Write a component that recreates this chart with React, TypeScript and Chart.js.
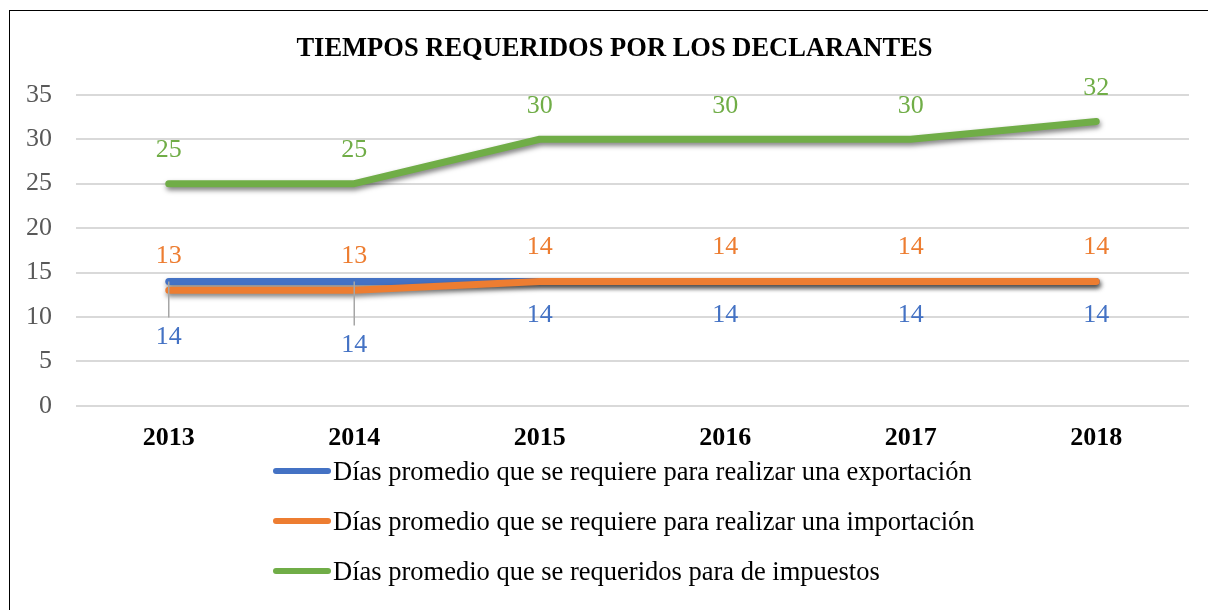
import React, { useEffect, useRef } from "react";
import { Chart, registerables } from "chart.js";

Chart.register(...registerables);

const TITLE = "TIEMPOS REQUERIDOS POR LOS DECLARANTES";
const years = ["2013", "2014", "2015", "2016", "2017", "2018"];
const seriesNames = [
  "Días promedio que se requiere para realizar una exportación",
  "Días promedio que se requiere para realizar una importación",
  "Días promedio que se requeridos para de impuestos",
];
const exportDays = [14, 14, 14, 14, 14, 14];
const importDays = [13, 13, 14, 14, 14, 14];
const taxDays = [25, 25, 30, 30, 30, 32];
const yTicks = [0, 5, 10, 15, 20, 25, 30, 35];

const COLORS = ["#4472C4", "#ED7D31", "#70AD47"];
const SERIF = '"Liberation Serif", "Times New Roman", Times, serif';

// label placement (pixels relative to point), per dataset
const labelOffsets = [
  [56, 64, 34, 34, 34, 34],
  [-34, -34, -34, -34, -34, -34],
  [-33, -33, -33, -33, -33, -33],
];
const leaderIdx = [0, 1];

const titleShiftPlugin = {
  id: "titleShift",
  afterLayout(chart: any) {
    if (chart.titleBlock) {
      chart.titleBlock.left += 38;
    }
  },
};

const shadowPlugin = {
  id: "lineShadow",
  beforeDatasetDraw(chart: any) {
    const ctx = chart.ctx;
    ctx.save();
    ctx.shadowColor = "rgba(0,0,0,0.5)";
    ctx.shadowBlur = 5;
    ctx.shadowOffsetX = 1;
    ctx.shadowOffsetY = 3;
  },
  afterDatasetDraw(chart: any) {
    chart.ctx.restore();
  },
};

const labelPlugin = {
  id: "valueLabels",
  afterDatasetsDraw(chart: any) {
    const ctx = chart.ctx;
    ctx.save();
    ctx.font = `26px ${SERIF}`;
    ctx.textAlign = "center";
    ctx.textBaseline = "middle";
    chart.data.datasets.forEach((ds: any, di: number) => {
      const meta = chart.getDatasetMeta(di);
      meta.data.forEach((pt: any, i: number) => {
        const off = labelOffsets[di][i];
        if (di === 0 && leaderIdx.includes(i)) {
          ctx.strokeStyle = "#A6A6A6";
          ctx.lineWidth = 1.5;
          ctx.beginPath();
          ctx.moveTo(pt.x, pt.y);
          ctx.lineTo(pt.x, pt.y + off - 20);
          ctx.stroke();
        }
        ctx.fillStyle = COLORS[di];
        ctx.fillText(String(ds.data[i]), pt.x, pt.y + off);
      });
    });
    ctx.restore();
  },
};

export default function App() {
  const ref = useRef<HTMLCanvasElement | null>(null);

  useEffect(() => {
    if (!ref.current) return;
    const mk = (label: string, data: number[], color: string, order: number) => ({
      label,
      data,
      borderColor: color,
      backgroundColor: color,
      borderWidth: 7,
      borderCapStyle: "round" as const,
      borderJoinStyle: "round" as const,
      pointRadius: 0,
      tension: 0,
      order,
    });
    const chart = new Chart(ref.current, {
      type: "line",
      data: {
        labels: years,
        datasets: [
          mk(seriesNames[0], exportDays, COLORS[0], 2),
          mk(seriesNames[1], importDays, COLORS[1], 1),
          mk(seriesNames[2], taxDays, COLORS[2], 0),
        ],
      },
      options: {
        animation: false,
        responsive: false,
        maintainAspectRatio: false,
        layout: { padding: { top: 10, left: 2, right: 19, bottom: 139 } },
        plugins: {
          legend: { display: false },
          tooltip: { enabled: false },
          title: {
            display: true,
            text: TITLE,
            color: "#000",
            font: { family: SERIF, size: 26.5, weight: "bold", lineHeight: 1.2 },
            padding: { top: 23, bottom: 30 },
          },
        },
        scales: {
          x: {
            offset: true,
            grid: { display: false, drawTicks: false },
            border: { display: false },
            ticks: {
              color: "#000",
              padding: 17,
              font: { family: SERIF, size: 26, weight: "bold", lineHeight: 1.2 },
            },
          },
          y: {
            min: 0,
            max: 35,
            afterBuildTicks: (s: any) => {
              s.ticks = yTicks.map((v) => ({ value: v }));
            },
            grid: { color: "#D9D9D9", lineWidth: 2, drawTicks: false },
            border: { display: false },
            ticks: {
              color: "#595959",
              padding: 24,
              font: { family: SERIF, size: 26, lineHeight: 1.2 },
            },
          },
        },
      },
      plugins: [titleShiftPlugin, shadowPlugin, labelPlugin],
    });
    return () => chart.destroy();
  }, []);

  const legendTops = [471, 521, 571];

  return (
    <div style={{ position: "fixed", left: 0, top: 0, width: 1208, height: 610, background: "#fff", overflow: "hidden" }}>
      <div
        style={{
          position: "absolute",
          left: 9,
          top: 10,
          width: 1250,
          height: 700,
          border: "1px solid #000",
          boxSizing: "border-box",
        }}
      />
      <canvas ref={ref} width={1208} height={610} style={{ position: "absolute", left: 0, top: 0 }} />
      {seriesNames.map((name, i) => (
        <div key={name}>
          <div
            style={{
              position: "absolute",
              left: 273,
              top: legendTops[i] - 3,
              width: 58,
              height: 6,
              borderRadius: 3,
              background: COLORS[i],
            }}
          />
          <div
            style={{
              position: "absolute",
              left: 333,
              top: legendTops[i] - 16,
              height: 32,
              lineHeight: "32px",
              fontFamily: SERIF,
              fontSize: 26.5,
              color: "#000",
              whiteSpace: "nowrap",
            }}
          >
            {name}
          </div>
        </div>
      ))}
    </div>
  );
}
